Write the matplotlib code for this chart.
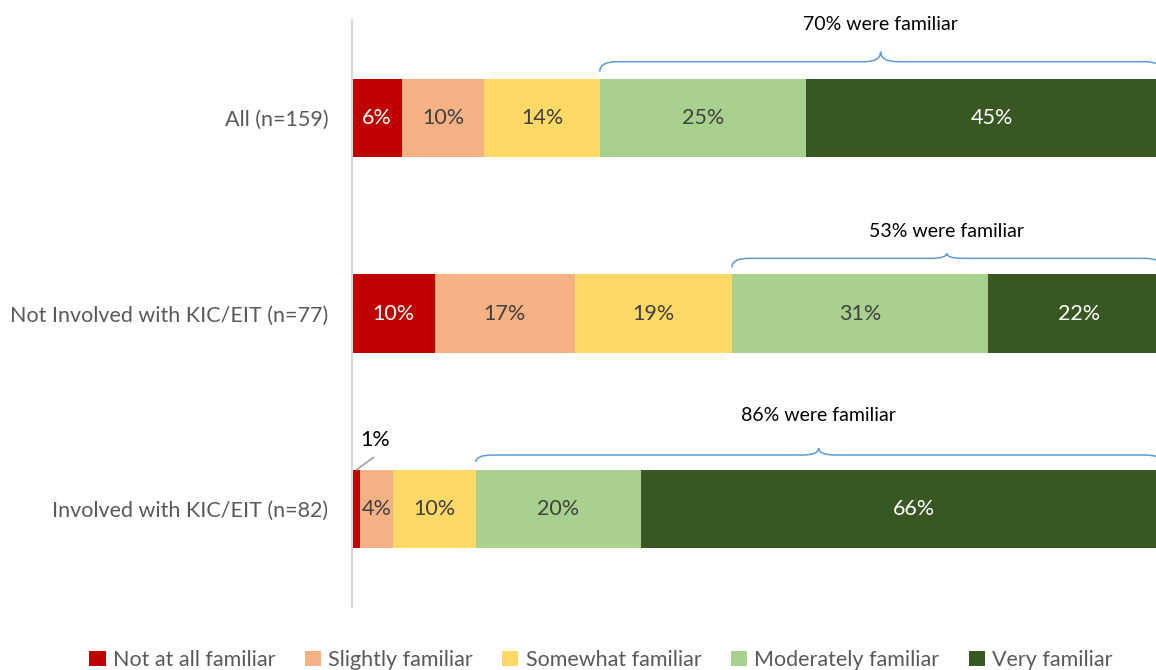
import matplotlib
matplotlib.use("Agg")
import matplotlib.pyplot as plt
from matplotlib.path import Path
from matplotlib.patches import PathPatch, Patch

plt.rcParams["font.family"] = ["Lato", "DejaVu Sans"]

# ---- data ----
groups = ["All (n=159)", "Not Involved with KIC/EIT (n=77)", "Involved with KIC/EIT (n=82)"]
levels = ["Not at all familiar", "Slightly familiar", "Somewhat familiar",
          "Moderately familiar", "Very familiar"]
shares = [
    [6, 10, 14, 25, 45],
    [10, 17, 19, 31, 22],
    [1, 4, 10, 20, 66],
]
familiar_text = ["70% were familiar", "53% were familiar", "86% were familiar"]
colors = ["#C00000", "#F4B183", "#FFD966", "#A9D18E", "#385723"]
label_colors = ["white", "#404040", "#404040", "#404040", "white"]

# ---- figure ----
W, H = 1156, 670
fig = plt.figure(figsize=(W / 100, H / 100), dpi=100)
ax = fig.add_axes([352 / W, 63 / H, 826 / W, 587 / H])
px = 3.0 / 587  # data units per pixel (vertical)
pxx = 100 / 826  # data units per pixel (horizontal)

bar_h = 0.4
for i, row in enumerate(shares):
    left = 0
    for j, v in enumerate(row):
        ax.barh(i, v, left=left, height=bar_h, color=colors[j], edgecolor="none")
        if v >= 3:
            ax.text(left + v / 2, i, f"{v}%", ha="center", va="center",
                    fontsize=15.5, color=label_colors[j])
        left += v

# small 1% label with leader line (third group)
top3 = 2 - bar_h / 2
ax.plot([shares[2][0] / 2, shares[2][0] / 2 + 18 * pxx], [top3, top3 - 13 * px],
        color="#A6A6A6", lw=1.3, solid_capstyle="butt")
ax.text(shares[2][0] / 2 + 19 * pxx, top3 - 30 * px, f"{shares[2][0]}%",
        ha="center", va="center", fontsize=15.5, color="black")


def brace(ax, x0, x1, yb, d_end, d_line, d_peak, r=2.0):
    xm = (x0 + x1) / 2
    ye, yl, yp = yb - d_end * px, yb - d_line * px, yb - d_peak * px
    verts = [(x0, ye), (x0, yl), (x0 + r, yl),
             (xm - r, yl), (xm, yl), (xm, yp),
             (xm, yl), (xm + r, yl),
             (x1 - r, yl), (x1, yl), (x1, ye)]
    codes = [Path.MOVETO, Path.CURVE3, Path.CURVE3,
             Path.LINETO, Path.CURVE3, Path.CURVE3,
             Path.CURVE3, Path.CURVE3,
             Path.LINETO, Path.CURVE3, Path.CURVE3]
    ax.add_patch(PathPatch(Path(verts, codes), fc="none", ec="#5B9BD5", lw=1.1,
                           clip_on=False))


brace_px = [(7, 17, 27), (7, 16, 21), (8, 15, 22)]
text_px = [54, 43, 55]
for i, row in enumerate(shares):
    start = sum(row[:3])
    top = i - bar_h / 2
    brace(ax, start, 98, top, *brace_px[i])
    ax.text((start + 98) / 2, top - text_px[i] * px, familiar_text[i],
            ha="center", va="center", fontsize=14, color="black")

ax.set_xlim(0, 100)
ax.set_ylim(2.5, -0.5)
ax.set_yticks(range(len(groups)))
ax.set_yticklabels(groups, fontsize=15.5, color="#595959")
ax.tick_params(axis="y", length=0, pad=17)
ax.set_xticks([])
for s in ["top", "right", "bottom"]:
    ax.spines[s].set_visible(False)
ax.spines["left"].set_color("#D9D9D9")
ax.spines["left"].set_linewidth(1.5)

handles = [Patch(facecolor=c, edgecolor="none") for c in colors]
fig.legend(handles, levels, loc="center", bbox_to_anchor=(0.52, 10 / H), ncol=5,
           frameon=False, fontsize=15.5, labelcolor="#595959",
           handlelength=0.75, handleheight=0.75, handletextpad=0.35,
           columnspacing=1.35)

fig.savefig("out.png", dpi=100)
